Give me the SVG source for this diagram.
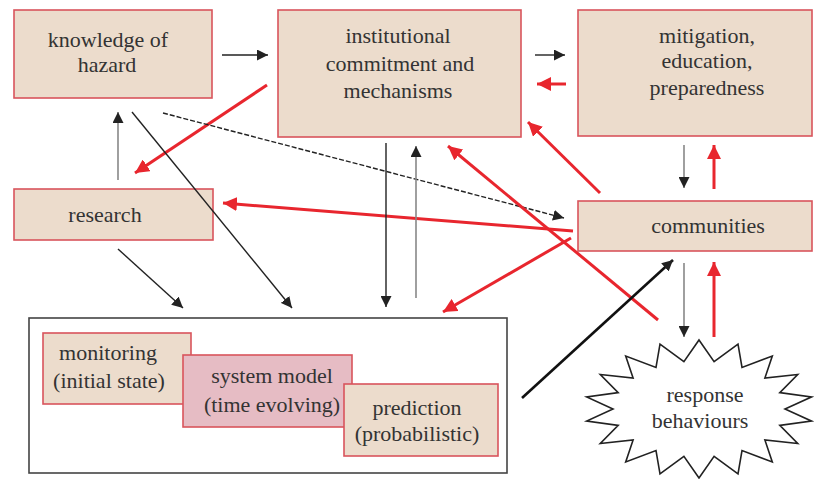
<svg xmlns="http://www.w3.org/2000/svg" width="814" height="479" viewBox="0 0 814 479">
<defs>
<style>
.box{fill:#ecdccc;stroke:#d9545c;stroke-width:1.6}
.sys{fill:#e6bcc4;stroke:#d9545c;stroke-width:1.6}
.cont{fill:#fff;stroke:#444;stroke-width:1.6}
.star{fill:#fff;stroke:#222;stroke-width:1.6}
.t{font-family:'Liberation Serif','DejaVu Serif','Times New Roman',Times,serif;font-size:22px;fill:#333;text-anchor:middle}
.blk{stroke:#222;stroke-width:1.4;fill:none}
.gry{stroke:#888;stroke-width:1.6;fill:none}
.red{stroke:#e8262e;stroke-width:3;fill:none}
.thick{stroke:#111;stroke-width:2.6;fill:none}
.dash{stroke-dasharray:5 2}
</style>
<marker id="hb" viewBox="0 0 10 10" refX="10" refY="5" markerWidth="11" markerHeight="11" markerUnits="userSpaceOnUse" orient="auto"><path d="M0,0 L10,5 L0,10 z" fill="#222"/></marker>
<marker id="hr" viewBox="0 0 10 10" refX="10" refY="5" markerWidth="14" markerHeight="14" markerUnits="userSpaceOnUse" orient="auto"><path d="M0,0 L10,5 L0,10 z" fill="#e8262e"/></marker>
</defs>
<rect width="814" height="479" fill="#fff"/>

<g font-family="Liberation Serif, DejaVu Serif, serif">
<g id="knowledge">
<rect class="box" x="14" y="10" width="198" height="88"/>
<text class="t" x="108" y="47">knowledge of</text>
<text class="t" x="107" y="72">hazard</text>
</g>
<g id="institutional">
<rect class="box" x="278" y="10" width="243" height="127"/>
<text class="t" x="398" y="43">institutional</text>
<text class="t" x="400" y="71">commitment and</text>
<text class="t" x="398" y="98">mechanisms</text>
</g>
<g id="mitigation">
<rect class="box" x="578" y="10" width="234" height="126"/>
<text class="t" x="707" y="43">mitigation,</text>
<text class="t" x="707" y="68">education,</text>
<text class="t" x="707" y="95">preparedness</text>
</g>
<g id="research">
<rect class="box" x="14" y="189" width="199" height="51"/>
<text class="t" x="105" y="222">research</text>
</g>
<g id="communities">
<rect class="box" x="578" y="201" width="234" height="50"/>
<text class="t" x="708" y="233">communities</text>
</g>
<g id="forecast">
<rect class="cont" x="29" y="318" width="478" height="155"/>
<g id="monitoring">
<rect class="box" x="43" y="333" width="148" height="71"/>
<text class="t" x="108" y="360">monitoring</text>
<text class="t" x="109" y="388">(initial state)</text>
</g>
<g id="system-model">
<rect class="sys" x="183" y="355" width="169" height="72"/>
<text class="t" x="272" y="383">system model</text>
<text class="t" x="272" y="412">(time evolving)</text>
</g>
<g id="prediction">
<rect class="box" x="344" y="384" width="154" height="72"/>
<text class="t" x="417" y="415">prediction</text>
<text class="t" x="417" y="441">(probabilistic)</text>
</g>
</g>
<g id="response">
<polygon class="star" points="699,340 714.1,361.7 738,344.2 742,367.4 772.3,356.1 764.9,378.1 797.7,374.5 779.8,392.6 811.3,397 785,409 811.3,421 779.8,425.4 797.7,443.5 764.9,439.9 772.3,461.9 742,450.6 738,473.8 714.1,456.3 699,478 683.9,456.3 660,473.8 656,450.6 625.7,461.9 633.1,439.9 600.3,443.5 618.2,425.4 586.7,421 613,409 586.7,397 618.2,392.6 600.3,374.5 633.1,378.1 625.7,356.1 656,367.4 660,344.2 683.9,361.7"/>
<text class="t" x="705" y="402">response</text>
<text class="t" x="700" y="428">behaviours</text>
</g>
</g>

<g id="connectors">
<path class="blk" d="M222,55 L268,55" marker-end="url(#hb)"/>
<path class="blk" d="M535,55 L565,55" marker-end="url(#hb)"/>
<path class="red" d="M566,84 L537,84" marker-end="url(#hr)"/>
<path class="red" d="M267,85 L135,173" marker-end="url(#hr)"/>
<path class="gry" d="M118,180 L118,112" marker-end="url(#hb)"/>
<path class="blk" d="M132,112 L292,308" marker-end="url(#hb)"/>
<path class="blk dash" d="M163,113 L564,218" marker-end="url(#hb)"/>
<path class="blk" d="M118,249 L183,308" marker-end="url(#hb)"/>
<path class="red" d="M573,231 L223,203" marker-end="url(#hr)"/>
<path class="blk" d="M386,143 L386,307" marker-end="url(#hb)"/>
<path class="gry" d="M416,298 L416,146" marker-end="url(#hb)"/>
<path class="red" d="M571,238 L443,312" marker-end="url(#hr)"/>
<path class="red" d="M658,320 L448,146" marker-end="url(#hr)"/>
<path class="red" d="M600,193 L528,122" marker-end="url(#hr)"/>
<path class="gry" d="M684,145 L684,188" marker-end="url(#hb)"/>
<path class="red" d="M714,189 L714,145" marker-end="url(#hr)"/>
<path class="gry" d="M684,263 L684,337" marker-end="url(#hb)"/>
<path class="red" d="M714,337 L714,262" marker-end="url(#hr)"/>
<path class="thick" d="M522,398 L673,260" marker-end="url(#hb)"/>
</g>
</svg>
